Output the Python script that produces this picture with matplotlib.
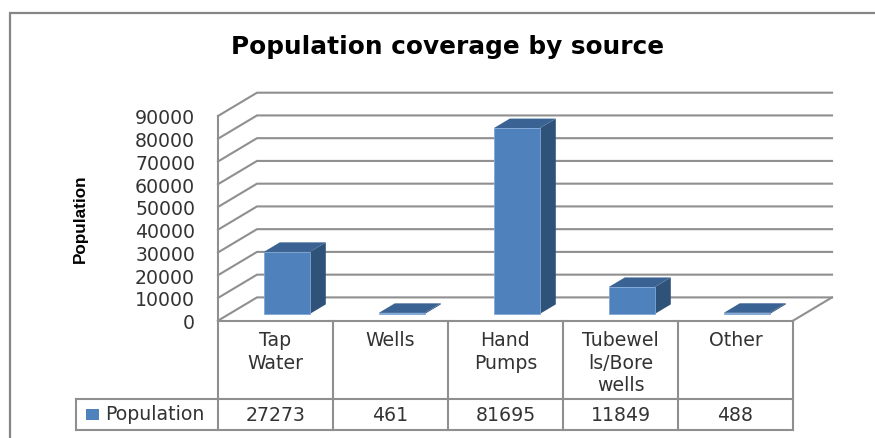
import matplotlib
matplotlib.use('Agg')
import matplotlib.pyplot as plt
from matplotlib.patches import Polygon, Rectangle

categories = ['Tap\nWater', 'Wells', 'Hand\nPumps', 'Tubewel\nls/Bore\nwells', 'Other']
population = [27273, 461, 81695, 11849, 488]
y_ticks = [0, 10000, 20000, 30000, 40000, 50000, 60000, 70000, 80000, 90000]
series_name = 'Population'

W, H = 875, 439
GRID = '#8f8f8f'
TXT = '#333333'
FRONT = '#4f81bd'
SIDE = '#2f5279'
TOP = '#3a6394'
FONT = 'DejaVu Sans'
FS = 13.6

# plot area in pixels (front plane)
left, right, y_zero, y_max = 218, 793, 321.7, 117

# depth of the fake 3d box, in data units
dx = 39 / 115
dy = 23.3 / ((y_zero - y_max) / 90000)
d_front = 0.29
d_back = 0.70
bar_w = 0.40

fig = plt.figure(figsize=(W / 100, H / 100), dpi=100)

# pixel coordinates layer for frame, title and table
bg = fig.add_axes([0, 0, 1, 1])
bg.set_xlim(0, W)
bg.set_ylim(H, 0)
bg.axis('off')

ax = fig.add_axes([left / W, 1 - y_zero / H, (right - left) / W, (y_zero - y_max) / H])
ax.set_xlim(0, len(categories))
ax.set_ylim(0, 90000)
ax.patch.set_alpha(0)
for s in ax.spines.values():
    s.set_visible(False)
ax.set_xticks([])
ax.set_yticks(y_ticks)
ax.tick_params(axis='y', length=0, pad=16.5, labelsize=FS, labelcolor=TXT)
for t in ax.get_yticklabels():
    t.set_fontfamily(FONT)

# walls
n = len(categories)
for v in y_ticks:
    ax.plot([0, dx, n + dx], [v, v + dy, v + dy], color=GRID, lw=1.5, clip_on=False, zorder=1,
            solid_joinstyle='miter')
ax.plot([0, 0], [0, 90000], color=GRID, lw=1.5, clip_on=False, zorder=1)
ax.plot([n, n + dx], [0, dy], color=GRID, lw=1.5, clip_on=False, zorder=1)

# bars
xs = [i + 0.5 + dx * d_front for i in range(n)]
base = dy * d_front
ax.bar(xs, population, bar_w, bottom=base, color=FRONT, edgecolor='#7fa6d6', linewidth=0.6,
       clip_on=False, zorder=3)
ox = dx * (d_back - d_front)
oy = dy * (d_back - d_front)
for x, v in zip(xs, population):
    l, r = x - bar_w / 2, x + bar_w / 2
    t = base + v
    ax.add_patch(Polygon([(r, base), (r + ox, base + oy), (r + ox, t + oy), (r, t)],
                         facecolor=SIDE, edgecolor='none', clip_on=False, zorder=2))
    ax.add_patch(Polygon([(l, t), (r, t), (r + ox, t + oy), (l + ox, t + oy)],
                         facecolor=TOP, edgecolor='none', clip_on=False, zorder=2))

# outer frame
bg.plot([10, 10, W], [H, 14, 14], color='#868686', lw=1.6, solid_joinstyle='miter')

bg.text(448, 47, 'Population coverage by source', ha='center', va='center', fontsize=17.8,
        fontweight='bold', color='black', family=FONT)
bg.text(80, 219, 'Population', rotation=90, ha='center', va='center', fontsize=12.3,
        fontweight='bold', color='black', family='Liberation Sans')

# data table
row_top, row_bot, cat_top = 400, 431.3, 322
step = (right - left) / n
bg.plot([left, right], [cat_top, cat_top], color=GRID, lw=1.5)
bg.plot([76, right], [row_top, row_top], color=GRID, lw=1.5)
bg.plot([76, right], [row_bot, row_bot], color=GRID, lw=1.5)
bg.plot([76, 76], [row_top, row_bot], color=GRID, lw=1.5)
for i in range(n + 1):
    bg.plot([left + i * step] * 2, [cat_top, row_bot], color=GRID, lw=1.5)
for i in range(n):
    cx = left + (i + 0.5) * step
    bg.text(cx, 331, categories[i], ha='center', va='top', fontsize=FS, color=TXT,
            family=FONT, linespacing=1.25)
    bg.text(cx, 416, str(population[i]), ha='center', va='center', fontsize=FS, color=TXT,
            family=FONT)
bg.add_patch(Rectangle((86, 410), 12.7, 11, facecolor=FRONT, edgecolor='none'))
bg.text(105, 415, series_name, ha='left', va='center', fontsize=FS, color=TXT, family=FONT)

fig.savefig('out.png', dpi=100)
